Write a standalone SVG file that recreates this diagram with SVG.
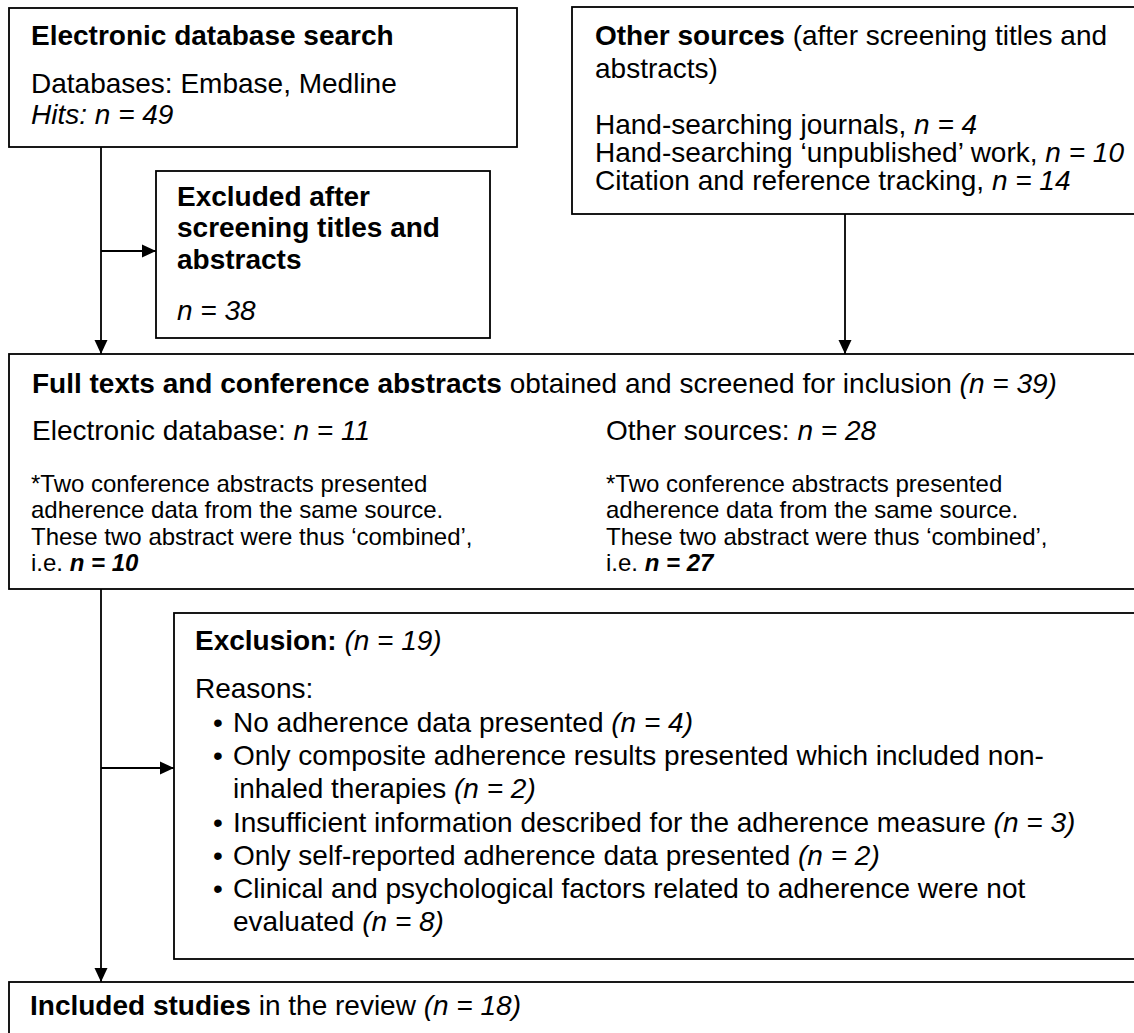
<svg xmlns="http://www.w3.org/2000/svg" width="1134" height="1033" viewBox="0 0 1134 1033">
<style>
text{font-family:"Liberation Sans",Arial,Helvetica,sans-serif;font-size:28px;fill:#000}
.b{font-weight:bold}
.i{font-style:italic}
.s{font-size:24px}
.box{fill:#fff;stroke:#000;stroke-width:1.8}
.ln{fill:none;stroke:#000;stroke-width:1.8}
</style>
<defs>
<marker id="ah" markerUnits="userSpaceOnUse" markerWidth="14" markerHeight="14" refX="14" refY="7" orient="auto">
<path d="M0,0.5 L14,7 L0,13.5 z" fill="#000"/>
</marker>
</defs>
<g id="connectors">
<path class="ln" d="M101,147 V354" marker-end="url(#ah)"/>
<path class="ln" d="M101,251 H156" marker-end="url(#ah)"/>
<path class="ln" d="M845,214 V354" marker-end="url(#ah)"/>
<path class="ln" d="M101,589 V982" marker-end="url(#ah)"/>
<path class="ln" d="M101,768 H174" marker-end="url(#ah)"/>
</g>
<g id="electronic-search">
<rect class="box" x="9" y="8" width="508" height="139"/>
<text x="31" y="45" class="b">Electronic database search</text>
<text x="31" y="93">Databases: Embase, Medline</text>
<text x="31" y="124" class="i">Hits: n = 49</text>
</g>
<g id="other-sources">
<rect class="box" x="572" y="7" width="580" height="207"/>
<text x="595" y="45"><tspan class="b">Other sources</tspan> (after screening titles and</text>
<text x="595" y="78">abstracts)</text>
<text x="595" y="134">Hand-searching journals, <tspan class="i">n = 4</tspan></text>
<text x="595" y="162">Hand-searching ‘unpublished’ work, <tspan class="i">n = 10</tspan></text>
<text x="595" y="190">Citation and reference tracking, <tspan class="i">n = 14</tspan></text>
</g>
<g id="excluded-screening">
<rect class="box" x="156" y="171" width="334" height="167"/>
<text x="177" y="206" class="b">Excluded after</text>
<text x="177" y="237" class="b">screening titles and</text>
<text x="177" y="269" class="b">abstracts</text>
<text x="177" y="320" class="i">n = 38</text>
</g>
<g id="full-texts">
<rect class="box" x="9" y="354" width="1140" height="235"/>
<text x="32" y="393"><tspan class="b">Full texts and conference abstracts</tspan> obtained and screened for inclusion <tspan class="i">(n = 39)</tspan></text>
<text x="32" y="440">Electronic database: <tspan class="i">n = 11</tspan></text>
<text x="31" y="492" class="s">*Two conference abstracts presented</text>
<text x="31" y="518" class="s">adherence data from the same source.</text>
<text x="31" y="545" class="s">These two abstract were thus ‘combined’,</text>
<text x="31" y="571" class="s">i.e. <tspan class="b i">n = 10</tspan></text>
<text x="606" y="440">Other sources: <tspan class="i">n = 28</tspan></text>
<text x="606" y="492" class="s">*Two conference abstracts presented</text>
<text x="606" y="518" class="s">adherence data from the same source.</text>
<text x="606" y="545" class="s">These two abstract were thus ‘combined’,</text>
<text x="606" y="571" class="s">i.e. <tspan class="b i">n = 27</tspan></text>
</g>
<g id="exclusion">
<rect class="box" x="174" y="613" width="980" height="346"/>
<text x="195" y="650"><tspan class="b">Exclusion:</tspan> <tspan class="i">(n = 19)</tspan></text>
<text x="195" y="698">Reasons:</text>
<text x="213" y="732">•</text><text x="233" y="732">No adherence data presented <tspan class="i">(n = 4)</tspan></text>
<text x="213" y="765">•</text><text x="233" y="765">Only composite adherence results presented which included non-</text>
<text x="233" y="798">inhaled therapies <tspan class="i">(n = 2)</tspan></text>
<text x="213" y="832">•</text><text x="233" y="832">Insufficient information described for the adherence measure <tspan class="i">(n = 3)</tspan></text>
<text x="213" y="865">•</text><text x="233" y="865">Only self-reported adherence data presented <tspan class="i">(n = 2)</tspan></text>
<text x="213" y="898">•</text><text x="233" y="898">Clinical and psychological factors related to adherence were not</text>
<text x="233" y="931">evaluated <tspan class="i">(n = 8)</tspan></text>
</g>
<g id="included">
<rect class="box" x="9" y="982" width="1140" height="90"/>
<text x="30" y="1015"><tspan class="b">Included studies</tspan> in the review <tspan class="i">(n = 18)</tspan></text>
</g>
</svg>
